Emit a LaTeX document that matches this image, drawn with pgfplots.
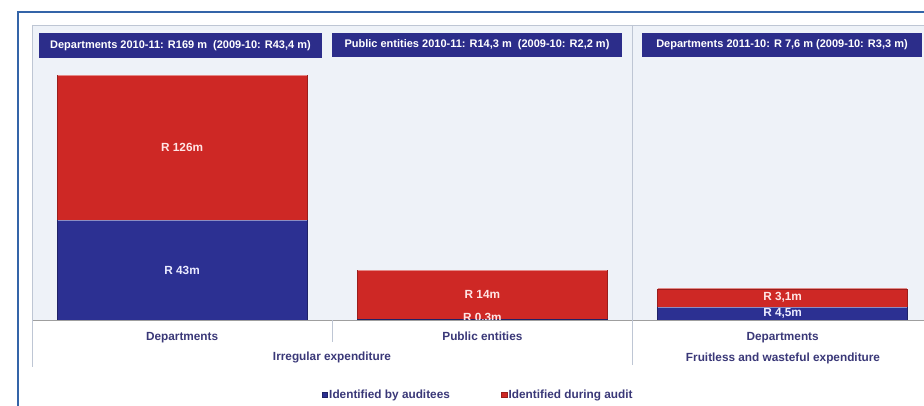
\documentclass[border=0pt]{standalone}
\usepackage{fontspec}
\setmainfont{Liberation Sans}
\usepackage{pgfplots}
\pgfplotsset{compat=1.18}
\definecolor{barblue}{RGB}{44,48,146}
\definecolor{barred}{RGB}{206,40,37}
\definecolor{hdr}{RGB}{44,45,138}
\definecolor{txt}{RGB}{58,56,120}
\definecolor{bgc}{RGB}{238,242,248}
\definecolor{framec}{RGB}{52,100,168}
\definecolor{gridc}{RGB}{190,198,212}
\newcommand{\lf}{\fontsize{11.8}{14}\selectfont\bfseries}
\begin{document}
\begin{tikzpicture}[x=1pt,y=1pt]
\useasboundingbox (0,0) rectangle (924,405);
\fill[white] (0,0) rectangle (924,405);
\begin{axis}[
  at={(32pt,85pt)}, anchor=south west, scale only axis,
  width=908pt, height=295pt,
  xmin=-0.5, xmax=2.524, ymin=0, ymax=295,
  ybar stacked, bar width=250pt,
  axis background/.style={fill=bgc},
  axis line style={draw=none},
  ytick=\empty,
  xtick=data, xticklabels={Departments,Public entities,Departments},
  major tick length=0pt,
  xticklabel style={anchor=base, yshift=-20pt, font=\lf, text=txt},
  legend columns=2,
  legend style={draw=none, fill=none, at={(0.4912,-0.254)}, anchor=center,
    font=\lf, text=txt,
    /tikz/every even column/.append style={column sep=50pt},
    inner sep=0pt, nodes={inner sep=1.5pt}},
  legend image code/.code={\fill[#1] (-3pt,-2.6pt) rectangle (2.4pt,2.8pt);},
]
\addplot[fill=barblue, draw=barblue!70!black] coordinates {(0,100) (1,1) (2,13)};
\addplot[fill=barred, draw=barred!75!black] coordinates {(0,145) (1,49) (2,18)};
\legend{Identified by auditees, Identified during audit}
\end{axis}
% bevel highlights
\draw[barred!55!white, line width=1pt] (57.5,329.5) -- (306.5,329.5);
\draw[barred!55!white, line width=1pt] (357.5,134.5) -- (606.5,134.5);
\draw[barred!55!white, line width=1pt] (657.5,116.5) -- (906.5,116.5);
\draw[barblue!55!white, line width=0.8pt] (57.5,184.5) -- (306.5,184.5);
\draw[barblue!55!white, line width=0.8pt] (657.5,97.5) -- (906.5,97.5);
% bar labels
\node[font=\lf, text=white!90!red] at (182.1,257.5) {R 126m};
\node[font=\lf, text=white!92!blue] at (182.1,135) {R 43m};
\node[font=\lf, text=white!90!red] at (482.4,111) {R 14m};
\node[font=\lf, text=white!90!red] at (782.6,108) {R 3,1m};
\node[font=\lf, text=white!92!blue] at (782.6,92) {R 4,5m};
\begin{scope}
\clip (358,85.5) rectangle (608,100);
\node[font=\lf, text=white!90!red] at (482.4,88) {R 0.3m};
\end{scope}
% frame lines
\draw[gridc] (32,380) -- (924,380);
\draw[gray!75] (32,85) -- (924,85);
\draw[gridc] (32,380) -- (32,38);
\draw[gridc] (632,380) -- (632,40);
\draw[gridc] (332,85) -- (332,63);
\draw[framec, line width=1.5pt] (18,-5) -- (18,393) -- (930,393);
% headers
\node[fill=hdr, text=white, minimum width=283pt, minimum height=25pt, inner sep=0pt,
  font=\fontsize{11}{13}\selectfont\bfseries] at (180.5,359.5) {Departments 2010-11: R169 m\ \ (2009-10: R43,4 m)};
\node[fill=hdr, text=white, minimum width=290pt, minimum height=24pt, inner sep=0pt,
  font=\fontsize{11}{13}\selectfont\bfseries] at (477,360) {Public entities 2010-11: R14,3 m\ \ (2009-10: R2,2 m)};
\node[fill=hdr, text=white, minimum width=280pt, minimum height=24pt, inner sep=0pt,
  font=\fontsize{11}{13}\selectfont\bfseries] at (782,360) {Departments 2011-10: R 7,6 m (2009-10: R3,3 m)};
% group labels
\node[font=\lf, text=txt] at (332,48) {Irregular expenditure};
\node[font=\lf, text=txt] at (783,47) {Fruitless and wasteful expenditure};
\end{tikzpicture}
\end{document}
